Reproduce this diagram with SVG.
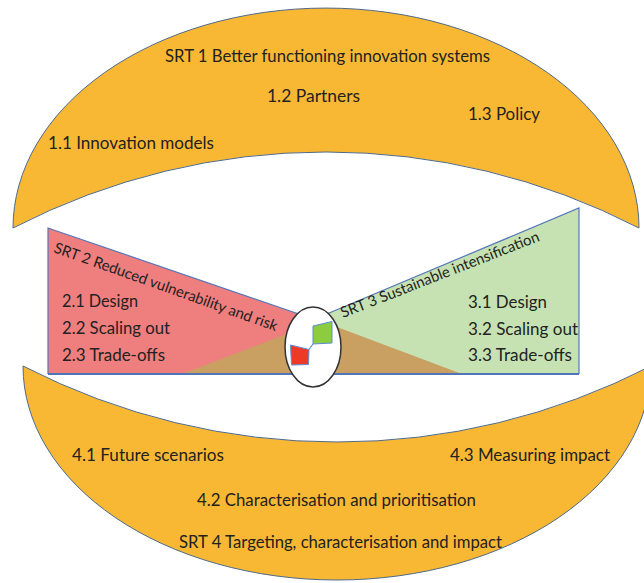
<svg xmlns="http://www.w3.org/2000/svg" width="644" height="583" viewBox="0 0 644 583">
<style>
.cres{fill:#F9B833;stroke:#4E6A8C;stroke-width:1}
.t{font-family:Lato,"Liberation Sans",sans-serif;font-size:17px;fill:#222222}
.tw{font-family:Lato,"Liberation Sans",sans-serif;font-size:18px;fill:#222222}
.tr{font-family:Lato,"Liberation Sans",sans-serif;font-size:15px;fill:#222222}
.edge{fill:none;stroke:#5577B8;stroke-width:1.2}
</style>
<rect width="644" height="583" fill="#ffffff"/>
<g id="srt1">
<path class="cres" d="M13,228 A313,220 0 0 1 639,228 A682.5,682.5 0 0 0 13,228 Z"/>
<text class="t" x="165" y="62" textLength="325" lengthAdjust="spacingAndGlyphs">SRT 1 Better functioning innovation systems</text>
<text class="t" x="267" y="102" textLength="93" lengthAdjust="spacingAndGlyphs">1.2 Partners</text>
<text class="t" x="468" y="120" textLength="72" lengthAdjust="spacingAndGlyphs">1.3 Policy</text>
<text class="t" x="48" y="149" textLength="166" lengthAdjust="spacingAndGlyphs">1.1 Innovation models</text>
</g>
<g id="srt4">
<path class="cres" d="M23,366 A686.7,686.7 0 0 0 651,366 A314,214 0 0 1 23,366 Z"/>
<text class="t" x="72" y="461" textLength="152" lengthAdjust="spacingAndGlyphs">4.1 Future scenarios</text>
<text class="t" x="450" y="461" textLength="160" lengthAdjust="spacingAndGlyphs">4.3 Measuring impact</text>
<text class="t" x="197" y="506" textLength="279" lengthAdjust="spacingAndGlyphs">4.2 Characterisation and prioritisation</text>
<text class="t" x="179" y="548" textLength="323" lengthAdjust="spacingAndGlyphs">SRT 4 Targeting, characterisation and impact</text>
</g>
<g id="srt2">
<polygon points="48,228 322,322 322,374 48,374" fill="#EF7E7E"/>
<polyline class="edge" points="322,322 48,228 48,374"/>
<text class="tw" x="62" y="307" textLength="76" lengthAdjust="spacingAndGlyphs">2.1 Design</text>
<text class="tw" x="62" y="334" textLength="108" lengthAdjust="spacingAndGlyphs">2.2 Scaling out</text>
<text class="tw" x="62" y="361" textLength="103" lengthAdjust="spacingAndGlyphs">2.3 Trade-offs</text>
<text class="tr" transform="translate(53,252) rotate(19.6)" textLength="236" lengthAdjust="spacingAndGlyphs">SRT 2 Reduced vulnerability and risk</text>
</g>
<g id="srt3">
<polygon points="579,208 322,316 322,374 579,374" fill="#C6E2B2"/>
<polyline class="edge" points="322,316 579,208 579,374"/>
<text class="tw" x="468" y="308" textLength="79" lengthAdjust="spacingAndGlyphs">3.1 Design</text>
<text class="tw" x="468" y="335" textLength="110" lengthAdjust="spacingAndGlyphs">3.2 Scaling out</text>
<text class="tw" x="468" y="361" textLength="104" lengthAdjust="spacingAndGlyphs">3.3 Trade-offs</text>
<text class="tr" transform="translate(343,318) rotate(-21.4)" textLength="212" lengthAdjust="spacingAndGlyphs">SRT 3 Sustainable intensification</text>
</g>
<g id="overlap">
<polygon points="182,374 321,321 462,374" fill="#C9A062"/>
<line x1="48" y1="374" x2="579" y2="374" stroke="#4F74B8" stroke-width="2"/>
</g>
<g id="center">
<ellipse cx="313" cy="347" rx="28" ry="40" fill="#ffffff" stroke="#333333" stroke-width="1.5"/>
<polygon points="313,326 332,321.5 332,343 313,344" fill="#8DCB3F" stroke="#5B8ED6" stroke-width="1"/>
<polygon points="290.5,345 309,349.5 308.5,364.5 291.5,365" fill="#EC3A26" stroke="#5B8ED6" stroke-width="1"/>
</g>
<g id="connectors">
<line x1="313" y1="344" x2="309" y2="349.5" stroke="#5B8ED6" stroke-width="1.2"/>
</g>
</svg>
